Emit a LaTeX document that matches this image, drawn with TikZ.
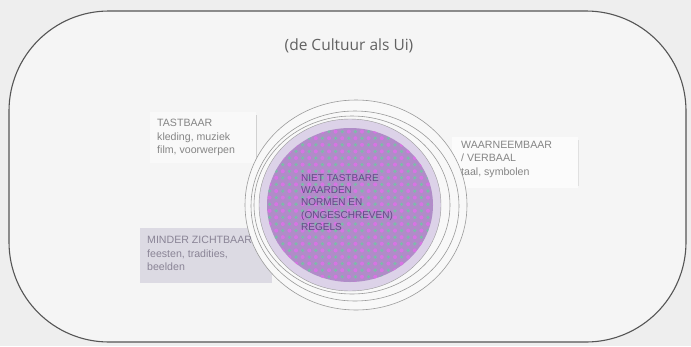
\documentclass[tikz,border=0pt]{standalone}
\usepackage{fontspec}
\setmainfont{Liberation Sans}
\newfontfamily\titlefont{Open Sans}
\definecolor{bg}{HTML}{EEEEEE}
\definecolor{frame}{HTML}{555555}
\definecolor{ringc}{HTML}{9A9A9A}
\definecolor{lav}{HTML}{DCD2E8}
\definecolor{core}{HTML}{B08CC8}
\definecolor{dotm}{HTML}{D873E4}
\definecolor{dotg}{HTML}{74C4A4}
\definecolor{txt}{HTML}{858585}
\definecolor{coretxt}{HTML}{654A88}
\definecolor{minbox}{HTML}{DCDAE3}
\definecolor{mintxt}{HTML}{8A8496}
\tikzset{
  lbl/.style={align=left, anchor=north west, inner sep=0pt, font=\fontsize{10.6}{13.4}\selectfont, text=txt},
  ring/.style={draw=ringc, line width=0.6pt},
}
\begin{document}
\begin{tikzpicture}[x=1pt,y=-1pt]
\useasboundingbox (0,0) rectangle (691,346);
\fill[bg] (0,0) rectangle (691,346);
% outer frame
\draw[frame, line width=1.1pt, rounded corners=100pt, fill=bg!60!white] (9,11) rectangle (686,342);
\node[font=\titlefont\fontsize{15.5}{18}\selectfont, text=black!62] (title) at (349,46) {(de Cultuur als Ui)};
% label boxes
\fill[white, opacity=0.45] (150,112) rectangle (256,163);
\draw[black!18, line width=0.6pt] (256,115) -- (256,160);
\fill[white, opacity=0.6] (452,137) rectangle (578,188);
\draw[black!12, line width=0.6pt] (578,140) -- (578,186);
\fill[minbox] (140,228) rectangle (272,283);
% rings
\draw[ring, fill=bg!40!white] (356,205) ellipse [x radius=111, y radius=105];
\draw[ring] (355,206) ellipse [x radius=104, y radius=95];
\draw[ring] (352,205) ellipse [x radius=98, y radius=89];
\fill[lav] (350,205) ellipse [x radius=91, y radius=86];
\draw[ring, line width=0.4pt] (350,205) ellipse [x radius=91, y radius=86];
% core with dots
\begin{scope}
\clip (350,205) ellipse [x radius=83, y radius=77];
\fill[core] (260,120) rectangle (440,290);
\foreach \i in {0,...,26}{
  \foreach \j in {0,...,25}{
    \pgfmathtruncatemacro{\pp}{mod(\i+\j,2)}
    \ifnum\pp=0
      \fill[dotm] (263+\i*6.6,125+\j*6.6) circle (2.0);
    \else
      \fill[dotg, opacity=0.85] (263+\i*6.6,125+\j*6.6) circle (1.8);
    \fi
  }
}
\end{scope}
% texts
\node[lbl] (tast) at (157,119) {TASTBAAR\\kleding, muziek\\film, voorwerpen};
\node[lbl] (waar) at (461,141) {WAARNEEMBAAR\\/ VERBAAL\\taal, symbolen};
\node[lbl, text=mintxt] (mind) at (147,236) {MINDER ZICHTBAAR\\feesten, tradities,\\beelden};
\node[lbl, text=coretxt, font=\fontsize{10}{12.4}\selectfont] (core) at (301,174) {NIET TASTBARE\\WAARDEN\\NORMEN EN\\(ONGESCHREVEN)\\REGELS};
\end{tikzpicture}
\end{document}
